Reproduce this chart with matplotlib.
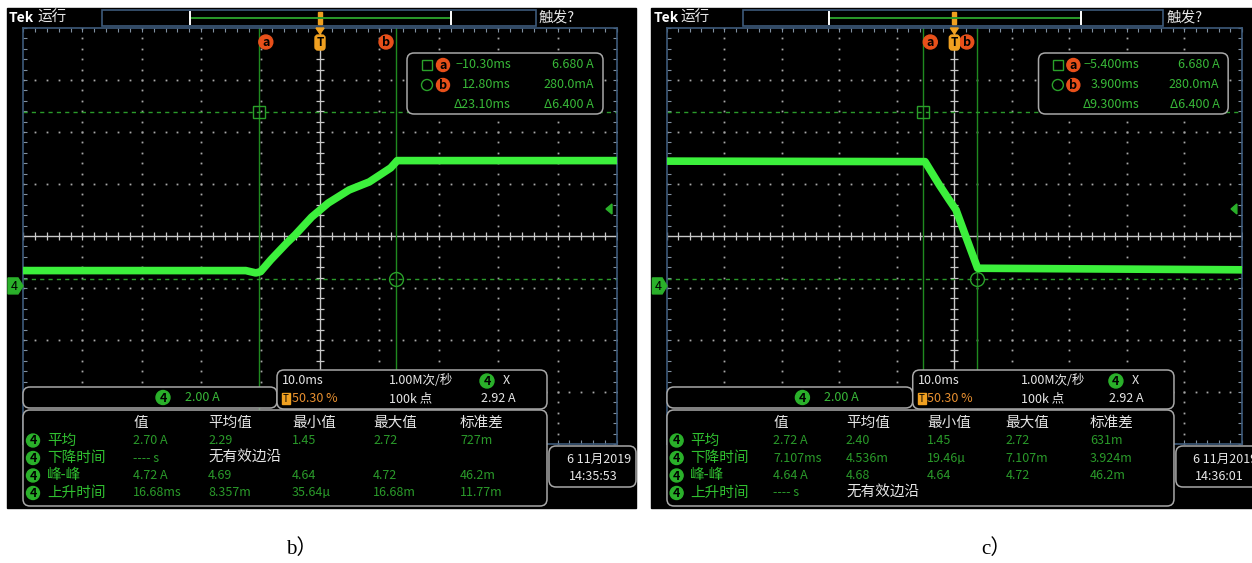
import matplotlib
matplotlib.use('Agg')
import matplotlib.pyplot as plt
from matplotlib.patches import Rectangle, FancyBboxPatch, Circle, Polygon
import numpy as np

# scope traces (time in ms, current in A)
t_rise = [-50, -12.5, -10.8, -10.0, -8.3, -5.6, -4.2, -1.4, 0, 1.4, 4.9, 8.3, 11.9, 13.0, 50]
i_rise = [0.59, 0.59, 0.50, 0.55, 1.00, 1.65, 1.96, 2.65, 2.92, 3.19, 3.69, 4.00, 4.54, 4.82, 4.82]
t_fall = [-50, -5.1, -2.6, -0.9, 0.3, 2.0, 4.05, 50]
i_fall = [4.80, 4.78, 3.88, 3.31, 2.92, 1.90, 0.68, 0.62]

cursor_t_b = [-10.30, 12.80]
cursor_t_c = [-5.40, 3.90]
cursor_i = [6.680, 0.280]

readout_b = [['\u221210.30ms', '6.680 A'], ['12.80ms', '280.0mA'], ['\u039423.10ms', '\u03946.400 A']]
readout_c = [['\u22125.400ms', '6.680 A'], ['3.900ms', '280.0mA'], ['\u03949.300ms', '\u03946.400 A']]

meas_cols = ['值', '平均值', '最小值', '最大值', '标准差']
meas_names = ['平均', '下降时间', '峰-峰', '上升时间']
meas_b = [['2.70 A', '2.29', '1.45', '2.72', '727m'],
          ['---- s', '无有效边沿'],
          ['4.72 A', '4.69', '4.64', '4.72', '46.2m'],
          ['16.68ms', '8.357m', '35.64\u00b5', '16.68m', '11.77m']]
meas_c = [['2.72 A', '2.40', '1.45', '2.72', '631m'],
          ['7.107ms', '4.536m', '19.46\u00b5', '7.107m', '3.924m'],
          ['4.64 A', '4.68', '4.64', '4.72', '46.2m'],
          ['---- s', '无有效边沿']]
date_b = ['6 11月2019', '14:35:53']
date_c = ['6 11月2019', '14:36:01']

# scope settings
time_div = 10.0      # ms/div
amp_div = 2.0        # A/div
amp_center = 1.92    # A at centre line
trig_level = 2.96

UI = ['Noto Sans CJK SC', 'DejaVu Sans']
green = '#3cf03c'
dgreen = '#2a9a2a'
tgreen = '#38b838'
orange = '#e8501a'
amber = '#f0a020'
white = '#e6e6e6'
frame = '#3d5a7a'
boxc = '#a8a8a8'

W, H = 1252, 563
fig = plt.figure(figsize=(W / 100, H / 100), dpi=100)
fig.patch.set_facecolor('white')

bg = fig.add_axes([0, 0, 1, 1], zorder=0)
fg = fig.add_axes([0, 0, 1, 1], zorder=2)
for a in (bg, fg):
    a.set_xlim(0, W)
    a.set_ylim(H, 0)
    a.axis('off')


def rbox(x, y, w, h):
    fg.add_patch(FancyBboxPatch((x, y), w, h, boxstyle='round,pad=0,rounding_size=7',
                                fc='black', ec=boxc, lw=1.1))


def badge(x, y, s, fc, tc='black', r=7, fs=9):
    fg.add_patch(Circle((x, y), r, color=fc))
    fg.text(x, y + 0.5, s, color=tc, ha='center', va='center', fontsize=fs,
            family=UI, fontweight='bold')


def txt(x, y, s, c=tgreen, fs=9, ha='left'):
    fg.text(x, y, s, color=c, fontsize=fs, ha=ha, va='center', family=UI)


def draw_scope(ox, sx, t, cur, t_cur, readout, meas, date):
    X = lambda x: ox + sx * x
    # screen
    bg.add_patch(Rectangle((X(7), 8), sx * 629, 500, color='black'))
    # top bar
    bg.add_patch(Rectangle((X(102), 10), sx * 434, 16, fill=False, ec=frame, lw=1.2))
    bg.plot([X(190), X(451)], [18, 18], color='#2a9a2a', lw=1.4)
    bg.plot([X(190), X(190)], [12, 24], color='white', lw=1.4)
    bg.plot([X(451), X(451)], [12, 24], color='white', lw=1.4)
    bg.add_patch(Rectangle((X(318), 12), 4, 12, color=amber))
    fg.text(X(9), 18, 'Tek', color='white', fontsize=10, fontweight='bold',
            va='center', family=UI)
    txt(X(37), 18, '运行', c=white, fs=10.5)
    txt(X(539), 18, '触发?', c=white, fs=10.5)

    # graticule axes
    gx0, gx1, gy0, gy1 = X(23), X(617), 28, 444
    ax = fig.add_axes([gx0 / W, 1 - gy1 / H, (gx1 - gx0) / W, (gy1 - gy0) / H], zorder=1)
    ax.set_facecolor('none')
    xlo, xhi = -5 * time_div, 5 * time_div
    ylo, yhi = amp_center - 4 * amp_div, amp_center + 4 * amp_div
    ax.set_xlim(xlo, xhi)
    ax.set_ylim(ylo, yhi)
    for sp in ax.spines.values():
        sp.set_color(frame)
        sp.set_linewidth(1.2)
    xd = np.arange(xlo, xhi + 0.01, time_div / 5)
    yd = np.arange(ylo, yhi + 0.001, amp_div / 5)
    ax.set_xticks(xd)
    ax.set_yticks(yd)
    ax.tick_params(direction='in', length=3, width=0.8, color='#8090a0', top=True, right=True,
                   labelbottom=False, labelleft=False)
    for k in range(1, 10):
        if k != 5:
            ax.plot(np.full(len(yd), xlo + k * time_div), yd, ls='none', marker='s',
                    ms=1.3, color='#a8a8a8', mew=0)
    for k in range(1, 8):
        if k != 4:
            ax.plot(xd, np.full(len(xd), ylo + k * amp_div), ls='none', marker='s',
                    ms=1.3, color='#a8a8a8', mew=0)
    ax.axvline(0, color='#c8c8c8', lw=1.0)
    ax.axhline(amp_center, color='#c8c8c8', lw=1.0)
    ax.plot(np.zeros(len(yd)), yd, ls='none', marker='_', ms=6, mew=0.9, color='#c8c8c8')
    ax.plot(xd, np.full(len(xd), amp_center), ls='none', marker='|', ms=6, mew=0.9, color='#c8c8c8')

    # cursors
    for tc in t_cur:
        ax.axvline(tc, color='#1f8a1f', lw=1.0)
    for ic in cursor_i:
        ax.axhline(ic, color='#2a9a2a', lw=1.0, ls=(0, (3, 3)))
    ax.plot(t_cur[0], cursor_i[0], marker='s', mfc='none', mec='#2aa02a', ms=8, mew=1)
    ax.plot(t_cur[1], cursor_i[1], marker='o', mfc='none', mec='#2aa02a', ms=10, mew=1)

    # trace
    ax.plot(t, cur, color=green, lw=5.5, solid_joinstyle='round', zorder=5)

    # cursor labels and trigger marker at top of graticule
    tpx = lambda tm: gx0 + (tm - xlo) / (xhi - xlo) * (gx1 - gx0)
    badge(tpx(t_cur[0]) + 7, 42, 'a', orange)
    badge(tpx(t_cur[1]) - 10, 42, 'b', orange)
    cx = tpx(0)
    fg.add_patch(Polygon([(cx - 4, 28), (cx + 4, 28), (cx, 34)], color=amber))
    fg.add_patch(FancyBboxPatch((cx - 5, 35), 10, 15, boxstyle='round,pad=0,rounding_size=3',
                                color=amber))
    fg.text(cx, 43, 'T', color='black', fontsize=8.5, ha='center', va='center',
            family=UI, fontweight='bold')

    # ground and trigger level markers
    gy = gy0 + (yhi - 0) / (yhi - ylo) * (gy1 - gy0)
    fg.add_patch(Polygon([(X(8), gy - 8), (X(18), gy - 8), (X(23), gy), (X(18), gy + 8),
                          (X(8), gy + 8)], color='#2ab02a'))
    fg.text(X(14), gy + 0.5, '4', color='black', fontsize=9, ha='center', va='center', family=UI)
    ty = gy0 + (yhi - trig_level) / (yhi - ylo) * (gy1 - gy0)
    fg.add_patch(Polygon([(X(606), ty), (X(612), ty - 5), (X(612), ty + 5)], color='#2ab02a'))

    # cursor readout
    rbox(X(407), 53, sx * 196, 61)
    fg.add_patch(Rectangle((X(422), 60), 10, 10, fill=False, ec='#2aa02a', lw=1))
    fg.add_patch(Circle((X(427), 85), 5.5, fill=False, ec='#2aa02a', lw=1))
    badge(X(443), 65, 'a', orange, r=6.5)
    badge(X(443), 85, 'b', orange, r=6.5)
    for r, (tv, iv) in enumerate(readout):
        y = 65 + r * 19.5
        txt(X(511), y, tv, ha='right')
        txt(X(594), y, iv, ha='right')

    # channel box
    rbox(X(23), 387, sx * 254, 21)
    badge(X(163), 397.5, '4', '#2ab02a')
    txt(X(185), 397.5, '2.00 A')

    # horizontal / acquisition box
    rbox(X(277), 370, sx * 270, 39)
    txt(X(282), 381, '10.0ms', c=white)
    txt(X(389), 381, '1.00M次/秒', c=white)
    badge(X(487), 381, '4', '#2ab02a')
    txt(X(503), 381, 'X', c=white)
    fg.add_patch(Rectangle((X(282), 393), 8, 11, color=amber))
    fg.text(X(282) + 4, 398.5, 'T', color='black', fontsize=7, ha='center', va='center', family=UI)
    txt(X(292), 399, '50.30 %', c='#e89030')
    txt(X(389), 399, '100k 点', c=white)
    txt(X(516), 399, '2.92 A', c=white, ha='right')

    # measurements
    rbox(X(23), 410, sx * 524, 96)
    cols = [133, 208, 292, 373, 460]
    for c, name in zip(cols, meas_cols):
        txt(X(c), 423, name, c=white, fs=10.5)
    for r, (name, row) in enumerate(zip(meas_names, meas)):
        y = 440.5 + r * 17.5
        badge(X(33), y, '4', '#2ab02a', r=6.5)
        txt(X(47), y, name, c='#30c030', fs=10.5)
        for k, v in enumerate(row):
            if v == '无有效边沿':
                txt(X(cols[k]), y, v, c=white, fs=10.5)
            else:
                txt(X(cols[k]), y, v, c=dgreen)

    # date box (the right screenshot is cropped at the image edge)
    rbox(X(549), 446, sx * 87, 41)
    txt(X(567), 459, date[0], c=white)
    txt(X(569), 476, date[1], c=white)


draw_scope(0, 1.0, t_rise, i_rise, cursor_t_b, readout_b, meas_b, date_b)
draw_scope(644.7, 0.9676, t_fall, i_fall, cursor_t_c, readout_c, meas_c, date_c)

cap = ['Liberation Serif', 'Noto Sans CJK SC']
fg.text(302, 549, 'b）', color='black', fontsize=15, ha='center', va='center', family=cap)
fg.text(996, 549, 'c）', color='black', fontsize=15, ha='center', va='center', family=cap)

fig.savefig('out.png', dpi=100, facecolor='white')
